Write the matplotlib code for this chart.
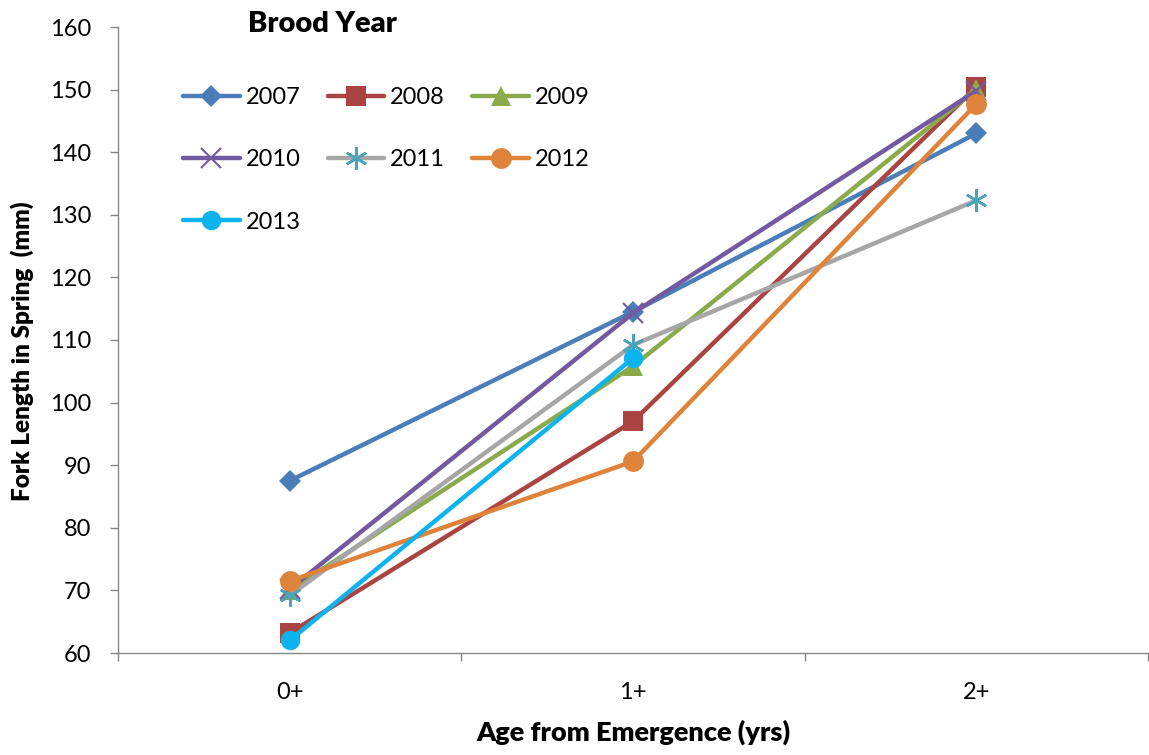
import matplotlib
matplotlib.use("Agg")
import matplotlib.pyplot as plt

plt.rcParams['font.family'] = ['Lato', 'DejaVu Sans']

ages = ["0+", "1+", "2+"]
years = ["2007", "2008", "2009", "2010", "2011", "2012", "2013"]
v2007 = [87.5, 114.5, 143.0]
v2008 = [63.2, 97.0, 150.4]
v2009 = [70.0, 105.8, 150.1]
v2010 = [70.2, 114.3, 149.8]
v2011 = [69.2, 109.2, 132.3]
v2012 = [71.5, 90.6, 147.7]
v2013 = [62.0, 107.1]
series = [v2007, v2008, v2009, v2010, v2011, v2012, v2013]

line_colors = ["#4A7EBB", "#A94442", "#8AAA4B", "#7259A0", "#A6A6A6", "#DE8339", "#0DB3EC"]
marker_colors = ["#4A7EBB", "#A94442", "#8AAA4B", "#7259A0", "#4AA3B8", "#DE8339", "#0DB3EC"]
markers = ["D", "s", "^", "x", "*", "o", "o"]
msizes = [11, 14, 14, 14, 16, 15, 14]

fig = plt.figure(figsize=(11.49, 7.55), dpi=100)
ax = fig.add_axes([118/1149, 1-653/755, 1030/1149, 626/755])

x = list(range(len(ages)))
handles = {}
for vals, lc, mc, m, ms, lab in zip(series, line_colors, marker_colors, markers, msizes, years):
    xs = x[:len(vals)]
    if m == "*":
        mk = (6, 2, 0)
        mew = 1.8
    elif m == "x":
        mk = "x"
        mew = 1.5
    else:
        mk = m
        mew = 0
    h, = ax.plot(xs, vals, color=lc, lw=3.2, marker=mk, ms=ms,
                 markerfacecolor=mc, markeredgecolor=mc, markeredgewidth=mew,
                 label=lab, solid_capstyle='round', zorder=3)
    handles[lab] = h

ax.set_xlim(-0.5, 2.5)
ax.set_ylim(60, 160)
ax.set_yticks(range(60, 161, 10))
ax.set_xticks(x)
ax.set_xticklabels(ages)
ax.set_xticks([-0.5, 0.5, 1.5, 2.5], minor=True)
ax.tick_params(axis='x', which='major', length=0, labelsize=17, pad=21)
ax.tick_params(axis='x', which='minor', length=6, color='#868686', width=1)
ax.tick_params(axis='y', length=6, color='#868686', width=1, labelsize=17, pad=13)
for s in ['top', 'right']:
    ax.spines[s].set_visible(False)
for s in ['left', 'bottom']:
    ax.spines[s].set_color('#868686')
    ax.spines[s].set_linewidth(1)

ax.set_xlabel("Age from Emergence (yrs)", fontsize=19.5, fontweight='heavy', labelpad=12)
ax.set_ylabel("Fork Length in Spring  (mm)", fontsize=17.5, fontweight='heavy')
ax.yaxis.set_label_coords(-84/1030, (653-351)/626)

fig.text(248/1149, 1-24/755, "Brood Year", fontsize=21, fontweight='heavy', va='center', ha='left')

order = ["2007", "2010", "2013", "2008", "2011", "2009", "2012"]
leg = fig.legend(handles=[handles[k] for k in order], labels=order, ncol=3, loc='upper left',
                 bbox_to_anchor=(183/1149, 1-87/755), frameon=False,
                 fontsize=17, handlelength=2.4, handletextpad=0.25,
                 columnspacing=1.15, labelspacing=1.75, borderpad=0, borderaxespad=0)

fig.savefig("out.png", dpi=100)
